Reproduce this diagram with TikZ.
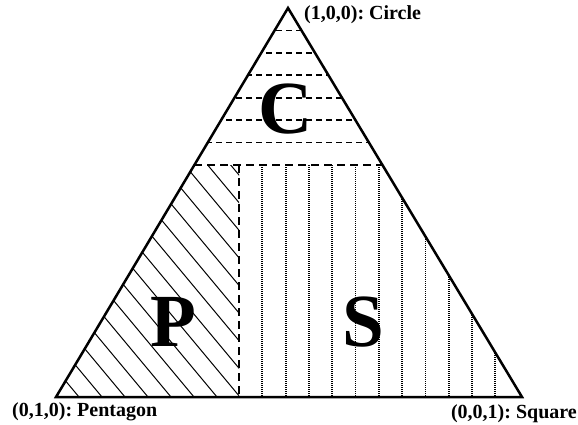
\documentclass[tikz,border=0pt]{standalone}
\usepackage{fontspec}
\setmainfont{Liberation Serif}
\begin{document}
\begin{tikzpicture}[x=1pt, y=-1pt,
    edge/.style={line width=2.5pt, line join=miter},
    border/.style={line width=1.8pt, dash pattern=on 8pt off 5pt},
    hatchline/.style={line width=1pt},
    level/.style={line width=1.8pt, dash pattern=on 6pt off 4pt},
    dotline/.style={line width=1.8pt, dash pattern=on 1.3pt off 0.7pt},
    corner/.style={font=\fontsize{20}{20}\selectfont\bfseries, inner sep=0pt},
    region/.style={font=\fontsize{75}{75}\selectfont\bfseries, inner sep=0pt}]
  \useasboundingbox (0,0) rectangle (578,424);
  \coordinate (circ) at (288,8);
  \coordinate (pent) at (56,397);
  \coordinate (squ) at (522,397);
  \coordinate (cl) at (194.3,165);
  \coordinate (cr) at (382.5,165);
  \coordinate (mt) at (239,165);
  \coordinate (mb) at (239,397);
  % circle region
  \begin{scope}
    \clip (circ) -- (cl) -- (cr) -- cycle;
    \foreach \k in {1,...,6}
      \draw[level] (56,{8+22.4*\k}) -- (522,{8+22.4*\k});
  \end{scope}
  % pentagon region
  \begin{scope}
    \clip (pent) -- (cl) -- (mt) -- (mb) -- cycle;
    \foreach \k in {0,...,15}
      \draw[hatchline] ({79+23*\k},397) -- ++(-200,-240);
  \end{scope}
  % square region
  \begin{scope}
    \clip (mt) -- (cr) -- (squ) -- (mb) -- cycle;
    \foreach \k in {1,...,11}
      \draw[dotline] ({239+23.3*\k},165) -- ++(0,232);
  \end{scope}
  \draw[edge] (circ) -- (squ) -- (pent) -- cycle;
  \draw[border] (cl) -- (cr);
  \draw[border] (mt) -- (mb);
  \node[region, anchor=base] (cnode) at (286,133) {C};
  \node[region, anchor=base] (pnode) at (173,346) {P};
  \node[region, anchor=base] (snode) at (363,346) {S};
  \node[corner, anchor=base west] (circlbl) at (304,19) {(1,0,0):\ Circle};
  \node[corner, anchor=base west] (pentlbl) at (12,416) {(0,1,0):\ Pentagon};
  \node[corner, anchor=base east] (squlbl) at (577,418) {(0,0,1):\ Square};
\end{tikzpicture}
\end{document}
